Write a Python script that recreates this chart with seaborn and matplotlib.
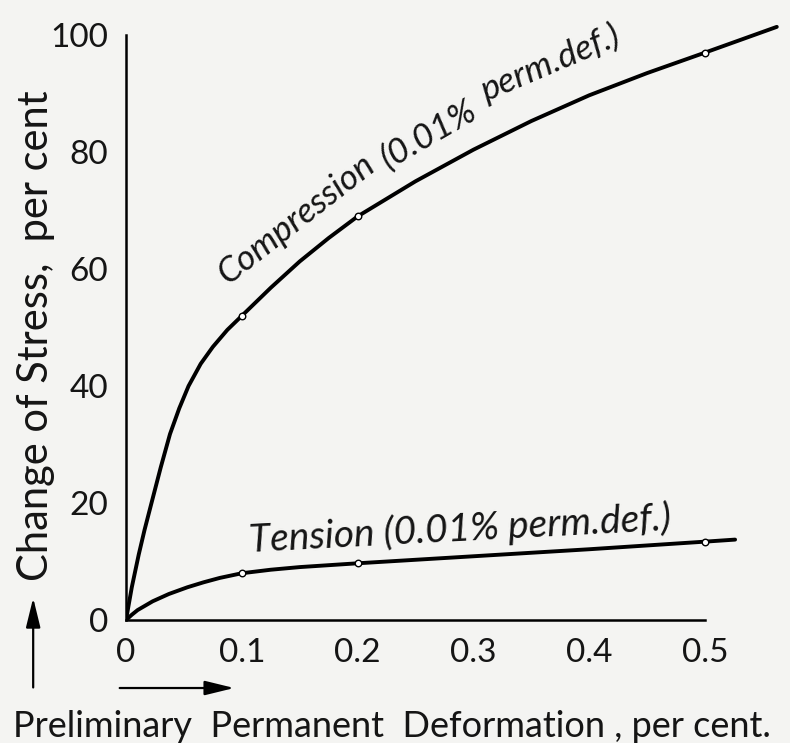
import numpy as np
import pandas as pd
import seaborn as sns
import matplotlib.pyplot as plt
from matplotlib.patches import FancyArrowPatch

# values
comp_x = [0, 0.005, 0.011, 0.016, 0.022, 0.03, 0.038, 0.046, 0.054, 0.0645, 0.075, 0.0875,
          0.1, 0.125, 0.15, 0.175, 0.2, 0.25, 0.3, 0.35, 0.4, 0.45, 0.5, 0.562]
comp_y = [0, 5.6, 11.2, 15.4, 20, 26.1, 31.8, 36.2, 40, 43.8, 46.7, 49.6,
          52, 56.8, 61.3, 65.3, 69, 75, 80.4, 85.3, 89.7, 93.5, 97, 101.4]

tens_x = [0, 0.005, 0.01, 0.023, 0.037, 0.053, 0.067, 0.081, 0.1, 0.125, 0.15, 0.2,
          0.25, 0.3, 0.35, 0.4, 0.45, 0.5, 0.526]
tens_y = [0, 0.9, 1.7, 3.2, 4.45, 5.6, 6.45, 7.2, 8.0, 8.6, 9.05, 9.7,
          10.3, 10.9, 11.5, 12.1, 12.75, 13.4, 13.75]

# measured points (open circles)
pts_x = [0.1, 0.2, 0.5]
comp_pts = [52, 69, 97]
tens_pts = [8.0, 9.7, 13.4]

xticks = [0, 0.1, 0.2, 0.3, 0.4, 0.5]
xticklabels = ['0', '0.1', '0.2', '0.3', '0.4', '0.5']
yticks = [0, 20, 40, 60, 80, 100]

sns.set_style('white')
plt.rcParams['font.family'] = ['Lato', 'DejaVu Sans']
ink = '#151515'
bg = '#f4f4f2'

fig = plt.figure(figsize=(7.9, 7.43), dpi=100, facecolor=bg)
ax = fig.add_axes([0.1595, 0.1655, 0.8355, 0.8188])
ax.set_facecolor(bg)

comp = pd.DataFrame({'x': comp_x, 'y': comp_y})
tens = pd.DataFrame({'x': tens_x, 'y': tens_y})
sns.lineplot(data=comp, x='x', y='y', ax=ax, color='black', lw=2.8, sort=False)
sns.lineplot(data=tens, x='x', y='y', ax=ax, color='black', lw=2.8, sort=False)

sns.scatterplot(x=pts_x, y=comp_pts, ax=ax, s=22, color='white', edgecolor='black',
                linewidth=1.0, zorder=5)
sns.scatterplot(x=pts_x, y=tens_pts, ax=ax, s=22, color='white', edgecolor='black',
                linewidth=1.0, zorder=5)

ax.set_xlim(0, 0.57)
ax.set_ylim(0, 104)
ax.set_xlabel('')
ax.set_ylabel('')
ax.set_xticks(xticks)
ax.set_xticklabels(xticklabels)
ax.set_yticks(yticks)

for side in ['top', 'right']:
    ax.spines[side].set_visible(False)
for side in ['left', 'bottom']:
    ax.spines[side].set_linewidth(1.8)
    ax.spines[side].set_color('black')
ax.spines['left'].set_bounds(0, 100)
ax.spines['bottom'].set_bounds(0, 0.5)
ax.tick_params(direction='in', length=4, width=1.2, color='black',
               labelsize=24, pad=13, labelcolor=ink)

# curve labels, following the curves
lab = dict(style='italic', color=ink, rotation_mode='anchor', ha='left', va='baseline')
ax.text(0.088, 57.3, 'Compression', rotation=38, fontsize=25.5, **lab)
ax.text(0.226, 77.0, '(0.01%', rotation=30, fontsize=25.5, **lab)
ax.text(0.311, 88.6, 'perm.def.)', rotation=23, fontsize=25.5, **lab)
ax.text(0.107, 11.6, 'Tension (0.01% perm.def.)', rotation=3, fontsize=28, **lab)

# axis titles and arrows
fig.text(0.016, 0.008, 'Preliminary  Permanent  Deformation , per cent.',
         fontsize=26, ha='left', va='baseline', color=ink)
fig.text(0.045, 0.548, 'Change of Stress,  per cent', rotation=90,
         fontsize=30, ha='center', va='center', color=ink)

astyle = '-|>,head_length=0.9,head_width=0.22'
fig.add_artist(FancyArrowPatch((0.042, 0.071), (0.042, 0.199), transform=fig.transFigure,
                               arrowstyle=astyle, lw=1.6, color='black', mutation_scale=20))
fig.add_artist(FancyArrowPatch((0.148, 0.074), (0.300, 0.074), transform=fig.transFigure,
                               arrowstyle=astyle, lw=1.6, color='black', mutation_scale=20))

fig.savefig('out.png', dpi=100, facecolor=bg)
